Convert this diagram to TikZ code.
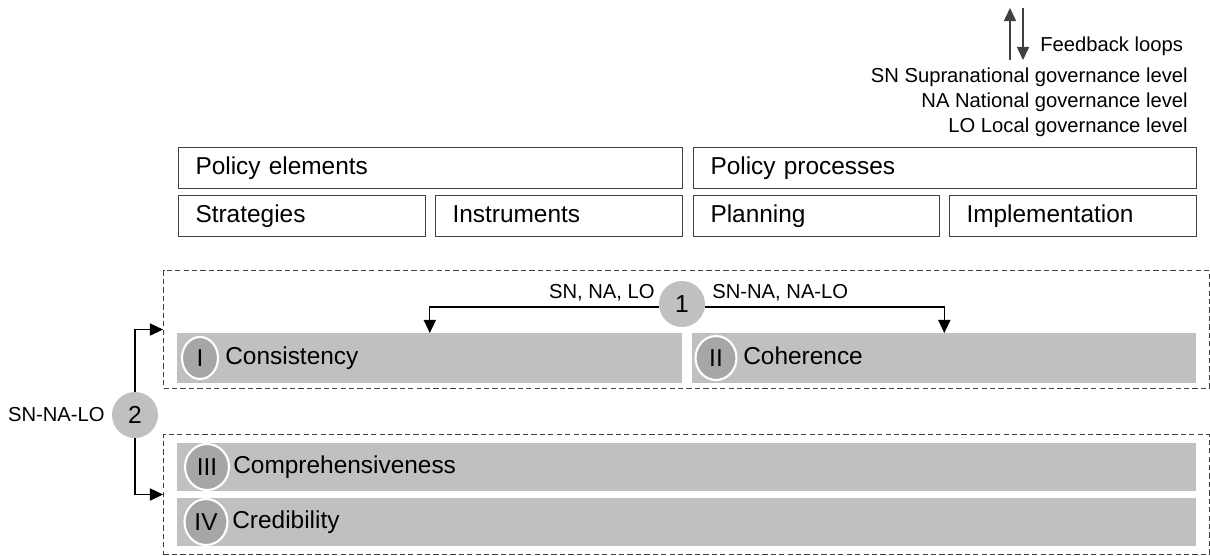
\documentclass[tikz,border=0pt]{standalone}
\usepackage{fontspec}
\setmainfont{Liberation Sans}
\usepackage{tikz}
\usetikzlibrary{arrows.meta,shapes.geometric}

\definecolor{barg}{HTML}{C0C0C0}
\definecolor{numg}{HTML}{A6A6A6}
\definecolor{edgeg}{HTML}{404040}

\tikzset{
  pbox/.style={draw=edgeg, line width=0.6pt, anchor=north west, minimum height=0.82cm,
    inner xsep=0.34cm, text width=#1, text height=10pt, text depth=3pt,
    align=left, font=\fontsize{13.9}{16}\selectfont},
  bar/.style={fill=barg, anchor=north west, minimum width=#1, inner sep=0pt},
  rnum/.style={ellipse, fill=numg, draw=white, line width=1.2pt, inner sep=0pt,
    font=\fontsize{13.9}{16}\selectfont},
  bartext/.style={anchor=base west, inner sep=0pt, font=\fontsize{13.9}{16}\selectfont},
  stepcirc/.style={circle, fill=barg, minimum size=0.92cm, inner sep=0pt,
    font=\fontsize{14}{16}\selectfont},
  group/.style={draw=edgeg, line width=0.6pt, dash pattern=on 3pt off 1.8pt,
    anchor=north west, minimum width=20.92cm, inner sep=0pt},
  lab/.style={inner sep=0pt, font=\fontsize{11.5}{14}\selectfont},
  conn/.style={line width=0.6pt, -{Triangle[length=7.5pt,width=7pt]}},
}

\begin{document}
\begin{tikzpicture}[x=0.02cm, y=-0.02cm]
    \useasboundingbox (0,0) rectangle (1210,555);

    % legend
    \coordinate (fu1) at (1010,60);
    \coordinate (fu2) at (1010,8);
    \coordinate (fd1) at (1023,8);
    \coordinate (fd2) at (1023,60);
    \draw[conn, draw=edgeg] (fu1) -- (fu2);
    \draw[conn, draw=edgeg] (fd1) -- (fd2);
    \node[lab, anchor=west] (fb) at (1040,46) {Feedback loops};
    \node[lab, anchor=east] (sn) at (1188,77) {SN Supranational governance level};
    \node[lab, anchor=east] (na) at (1188,102) {NA National governance level};
    \node[lab, anchor=east] (lo) at (1188,127) {LO Local governance level};

    % policy elements and processes
    \node[pbox=9.4cm] (elem) at (178,147) {Policy elements};
    \node[pbox=9.38cm] (proc) at (693,147) {Policy processes};
    \node[pbox=4.26cm] (strat) at (178,195) {Strategies};
    \node[pbox=4.26cm] (instr) at (435,195) {Instruments};
    \node[pbox=4.24cm] (plan) at (693,195) {Planning};
    \node[pbox=4.26cm] (impl) at (949,195) {Implementation};

    % groups
    \node[group, minimum height=2.36cm] (grp1) at (163,270) {};
    \node[group, minimum height=2.40cm] (grp2) at (163,434) {};

    \node[bar=10.1cm, minimum height=1.0cm] (cons) at (177,333) {};
    \node[bar=10.08cm, minimum height=1.0cm] (coh) at (692,333) {};
    \node[bar=20.38cm, minimum height=0.96cm] (comp) at (177,443) {};
    \node[bar=20.38cm, minimum height=0.96cm] (cred) at (177,498) {};

    \node[rnum, minimum width=0.72cm, minimum height=0.84cm] (n1) at (200,358) {I};
    \node[rnum, minimum width=0.82cm, minimum height=0.88cm] (n2) at (716,358) {II};
    \node[rnum, minimum width=0.88cm, minimum height=0.92cm] (n3) at (207,467) {III};
    \node[rnum, minimum width=0.86cm, minimum height=0.92cm] (n4) at (206,522) {IV};

    \node[bartext] (t1) at (225,364) {Consistency};
    \node[bartext] (t2) at (743,364) {Coherence};
    \node[bartext] (t3) at (233,473) {Comprehensiveness};
    \node[bartext] (t4) at (232,528) {Credibility};

    % steps
    \node[stepcirc] (s1) at (682,304) {1};
    \node[stepcirc] (s2) at (135,415) {2};

    \draw[conn] ([yshift=-0.06cm]s1.west) -| (cons.north);
    \draw[conn] ([yshift=-0.06cm]s1.east) -| (coh.north);
    \node[lab, anchor=south east] (l1) at (655,301) {SN, NA, LO};
    \node[lab, anchor=south west] (l2) at (712,301) {SN-NA, NA-LO};

    \draw[conn] (s2.north) |- (grp1.west);
    \draw[conn] (s2.south) |- (grp2.west);
    \node[lab, anchor=east] (l3) at (105,415) {SN-NA-LO};

\end{tikzpicture}
\end{document}
